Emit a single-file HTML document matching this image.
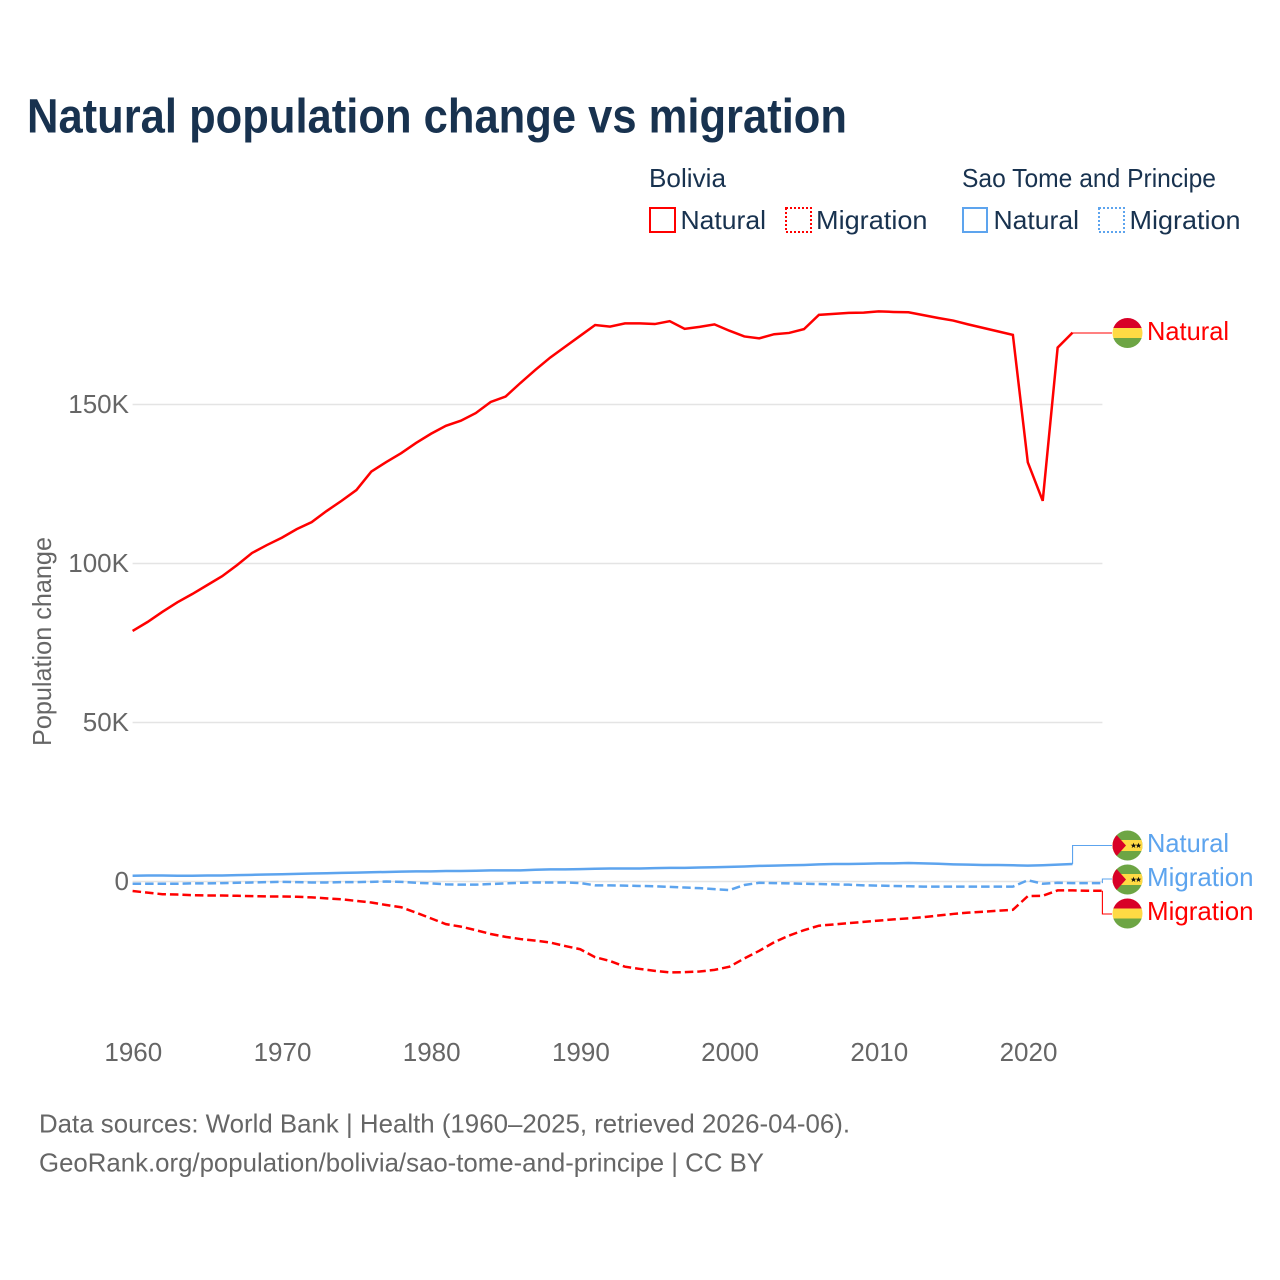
<!DOCTYPE html>
<html lang="en">
<head>
<meta charset="utf-8">
<title>Natural population change vs migration</title>
<style>
  html, body { margin: 0; padding: 0; background: #ffffff; }
  svg { display: block; font-family: "Liberation Sans", Arial, sans-serif; }
  .legend-text { font-size: 26px; fill: #18324f; }
  .tick { font-size: 26px; fill: #666666; }
  .source { font-size: 26px; fill: #666666; }
  .end-label { font-size: 26px; }
</style>
</head>
<body>
<svg id="chart" xmlns="http://www.w3.org/2000/svg" width="1280" height="1280" viewBox="0 0 1280 1280">
  <defs>
    <clipPath id="flag-clip"><circle cx="0" cy="0" r="15"></circle></clipPath>
    <g id="flag-bo">
      <g clip-path="url(#flag-clip)">
        <rect x="-15" y="-15" width="30" height="10" fill="#d80027"></rect>
        <rect x="-15" y="-5" width="30" height="10" fill="#ffda44"></rect>
        <rect x="-15" y="5" width="30" height="10" fill="#6da544"></rect>
      </g>
    </g>
    <g id="flag-st">
      <g clip-path="url(#flag-clip)">
        <rect x="-15" y="-15" width="30" height="30" fill="#6da544"></rect>
        <rect x="-15" y="-5.5" width="30" height="11" fill="#ffda44"></rect>
        <polygon points="-15,-15 -1.5,0 -15,15" fill="#d80027"></polygon>
        <polygon points="6,-2.8 6.8,-0.8 8.8,-0.8 7.2,0.5 7.8,2.5 6,1.3 4.2,2.5 4.8,0.5 3.2,-0.8 5.2,-0.8" fill="#111111"></polygon>
        <polygon points="11,-2.8 11.8,-0.8 13.8,-0.8 12.2,0.5 12.8,2.5 11,1.3 9.2,2.5 9.8,0.5 8.2,-0.8 10.2,-0.8" fill="#111111"></polygon>
      </g>
    </g>
  </defs>

  <text x="27" y="132.5" font-size="48" font-weight="700" fill="#18324f" textLength="820" lengthAdjust="spacingAndGlyphs">Natural population change vs migration</text>

  <g>
    <text class="legend-text" x="649" y="187" textLength="77" lengthAdjust="spacingAndGlyphs">Bolivia</text>
    <text class="legend-text" x="962" y="187" textLength="254" lengthAdjust="spacingAndGlyphs">Sao Tome and Principe</text>

    <g>
      <rect x="650" y="208" width="25" height="24" fill="none" stroke="#ff0000" stroke-width="2"></rect>
      <text class="legend-text" x="680.5" y="229" textLength="85.5" lengthAdjust="spacingAndGlyphs">Natural</text>
    </g>
    <g>
      <rect x="786" y="208" width="25" height="24" fill="none" stroke="#ff0000" stroke-width="2" stroke-dasharray="2 2"></rect>
      <text class="legend-text" x="816" y="229" textLength="111.5" lengthAdjust="spacingAndGlyphs">Migration</text>
    </g>
    <g>
      <rect x="963" y="208" width="24" height="24" fill="none" stroke="#5da4ee" stroke-width="2"></rect>
      <text class="legend-text" x="993.5" y="229" textLength="85.5" lengthAdjust="spacingAndGlyphs">Natural</text>
    </g>
    <g>
      <rect x="1099" y="208" width="25" height="24" fill="none" stroke="#5da4ee" stroke-width="2" stroke-dasharray="2 2"></rect>
      <text class="legend-text" x="1129.5" y="229" textLength="111" lengthAdjust="spacingAndGlyphs">Migration</text>
    </g>
  </g>

  <g id="grid"></g>
  <g id="y-ticks"></g>
  <g id="x-ticks"></g>

  <text class="tick" transform="translate(51,746) rotate(-90)" x="0" y="0" textLength="209" lengthAdjust="spacingAndGlyphs">Population change</text>

  <g id="series"></g>

  <g>
    <use href="#flag-bo" x="1127.5" y="333"></use>
    <text class="end-label" x="1147" y="340" fill="#ff0000" textLength="82" lengthAdjust="spacingAndGlyphs">Natural</text>
    <use href="#flag-st" x="1127.5" y="845.5"></use>
    <text class="end-label" x="1147" y="852" fill="#5da4ee" textLength="82" lengthAdjust="spacingAndGlyphs">Natural</text>
    <use href="#flag-st" x="1127.5" y="879.5"></use>
    <text class="end-label" x="1147" y="886" fill="#5da4ee" textLength="106.5" lengthAdjust="spacingAndGlyphs">Migration</text>
    <use href="#flag-bo" x="1127.5" y="913.5"></use>
    <text class="end-label" x="1147" y="920" fill="#ff0000" textLength="106.5" lengthAdjust="spacingAndGlyphs">Migration</text>
  </g>

  <text class="source" x="39" y="1132.5" textLength="811" lengthAdjust="spacingAndGlyphs">Data sources: World Bank | Health (1960–2025, retrieved 2026-04-06).</text>
  <text class="source" x="39" y="1171.5" textLength="725" lengthAdjust="spacingAndGlyphs">GeoRank.org/population/bolivia/sao-tome-and-principe | CC BY</text>
</svg>

<script>
var startYear = 1960;
var xTickYears = [1960, 1970, 1980, 1990, 2000, 2010, 2020];
var yTickValues = [0, 50, 100, 150];
var yTickLabels = ["0", "50K", "100K", "150K"];

// Values in thousands, one per year starting at 1960
var boliviaNatural = [78.8, 81.6, 84.8, 87.8, 90.4, 93.2, 96.0, 99.5, 103.3, 105.8,
  108.1, 110.8, 113.0, 116.5, 119.7, 123.1, 128.9, 131.9, 134.7, 137.9,
  140.8, 143.3, 144.9, 147.3, 150.8, 152.5, 156.8, 160.9, 164.8, 168.2,
  171.6, 175.0, 174.5, 175.5, 175.5, 175.3, 176.2, 173.8, 174.4, 175.2,
  173.2, 171.4, 170.8, 172.1, 172.5, 173.7, 178.2, 178.5, 178.8, 178.9,
  179.3, 179.1, 179.0, 178.1, 177.2, 176.4, 175.2, 174.1, 173.0, 171.9,
  131.8, 119.7, 167.9, 172.6];
var boliviaMigration = [-3.0, -3.5, -4.0, -4.1, -4.3, -4.4, -4.4, -4.5, -4.6, -4.7,
  -4.7, -4.8, -5.0, -5.3, -5.6, -6.1, -6.6, -7.4, -8.1, -9.8,
  -11.6, -13.4, -14.2, -15.3, -16.5, -17.4, -18.1, -18.6, -19.2, -20.3,
  -21.3, -23.8, -25.0, -26.8, -27.5, -28.1, -28.6, -28.5, -28.3, -27.8,
  -26.8, -24.2, -21.8, -19.1, -17.0, -15.3, -13.9, -13.5, -13.1, -12.7,
  -12.3, -11.9, -11.6, -11.2, -10.7, -10.2, -9.8, -9.5, -9.2, -8.9,
  -4.6, -4.5, -2.8, -2.8, -2.9, -2.9];
var saoTomeNatural = [1.8, 1.9, 1.9, 1.8, 1.8, 1.9, 1.9, 2.0, 2.1, 2.2,
  2.3, 2.4, 2.5, 2.6, 2.7, 2.8, 2.9, 3.0, 3.1, 3.2,
  3.2, 3.3, 3.3, 3.4, 3.5, 3.5, 3.5, 3.7, 3.8, 3.8,
  3.9, 4.0, 4.1, 4.1, 4.1, 4.2, 4.3, 4.3, 4.4, 4.5,
  4.6, 4.7, 4.9, 5.0, 5.1, 5.2, 5.4, 5.5, 5.5, 5.6,
  5.7, 5.7, 5.8, 5.7, 5.6, 5.4, 5.3, 5.2, 5.2, 5.1,
  5.0, 5.1, 5.3, 5.5];
var saoTomeMigration = [-0.7, -0.7, -0.7, -0.7, -0.6, -0.6, -0.5, -0.4, -0.3, -0.2,
  -0.1, -0.2, -0.3, -0.3, -0.2, -0.2, -0.1, 0.0, -0.1, -0.4,
  -0.6, -0.9, -1.0, -1.0, -0.8, -0.6, -0.4, -0.3, -0.3, -0.3,
  -0.5, -1.2, -1.2, -1.3, -1.4, -1.5, -1.7, -1.9, -2.1, -2.4,
  -2.7, -1.1, -0.4, -0.5, -0.6, -0.7, -0.8, -0.9, -1.0, -1.2,
  -1.3, -1.4, -1.5, -1.6, -1.6, -1.6, -1.6, -1.6, -1.6, -1.6,
  0.4, -0.7, -0.4, -0.5, -0.5, -0.5];

var svgNS = "http://www.w3.org/2000/svg";
var RED = "#ff0000";
var BLUE = "#5da4ee";

function xScale(year) { return 132.6 + (year - 1960) * 14.92; }
function yScale(v) { return 881.5 - v * 3.18; }
function svgEl(tag) { return document.createElementNS(svgNS, tag); }

var gridGroup = document.getElementById("grid");
var yGroup = document.getElementById("y-ticks");
var xGroup = document.getElementById("x-ticks");
var seriesGroup = document.getElementById("series");

yTickValues.forEach(function (v, i) {
  var line = svgEl("line");
  
  
  line.setAttribute("x1", xScale(1960));
  line.setAttribute("x2", xScale(2025));
  line.setAttribute("y1", yScale(v));
  line.setAttribute("y2", yScale(v));
  line.setAttribute("stroke", "#e4e4e4");
  line.setAttribute("stroke-width", "1.4");
  gridGroup.appendChild(line);

  var label = svgEl("text");
  
  
  label.setAttribute("class", "tick");
  label.setAttribute("x", "129");
  label.setAttribute("y", yScale(v) + 8.5);
  label.setAttribute("text-anchor", "end");
  label.textContent = yTickLabels[i];
  yGroup.appendChild(label);
});

xTickYears.forEach(function (year) {
  var label = svgEl("text");
  
  
  label.setAttribute("class", "tick");
  label.setAttribute("x", xScale(year) + 0.7);
  label.setAttribute("y", "1061");
  label.setAttribute("text-anchor", "middle");
  label.textContent = year;
  xGroup.appendChild(label);
});

function seriesPath(values) {
  return values.map(function (v, i) {
    return (i ? "L" : "M") + xScale(startYear + i).toFixed(2) + " " + yScale(v).toFixed(2);
  }).join(" ");
}

function lastPoint(values) {
  var i = values.length - 1;
  return { x: xScale(startYear + i), y: yScale(values[i]) };
}

function addLeader(values, labelY, color) {
  var p = lastPoint(values);
  var leader = svgEl("path");
  
  
  leader.setAttribute("d", "M" + p.x + " " + p.y + " V" + labelY + " H1112");
  leader.setAttribute("fill", "none");
  leader.setAttribute("stroke", color);
  leader.setAttribute("stroke-width", "1.1");
  seriesGroup.appendChild(leader);
}

addLeader(boliviaNatural, 333, RED);
addLeader(saoTomeNatural, 845.5, BLUE);
addLeader(saoTomeMigration, 879, BLUE);
addLeader(boliviaMigration, 914, RED);

var lineSaoNatural = svgEl("path");


lineSaoNatural.setAttribute("d", seriesPath(saoTomeNatural));
lineSaoNatural.setAttribute("fill", "none");
lineSaoNatural.setAttribute("stroke", BLUE);
lineSaoNatural.setAttribute("stroke-width", "2.5");
seriesGroup.appendChild(lineSaoNatural);

var lineSaoMigration = svgEl("path");


lineSaoMigration.setAttribute("d", seriesPath(saoTomeMigration));
lineSaoMigration.setAttribute("fill", "none");
lineSaoMigration.setAttribute("stroke", BLUE);
lineSaoMigration.setAttribute("stroke-width", "2.5");
lineSaoMigration.setAttribute("stroke-dasharray", "8.5 4");
seriesGroup.appendChild(lineSaoMigration);

var lineBoMigration = svgEl("path");


lineBoMigration.setAttribute("d", seriesPath(boliviaMigration));
lineBoMigration.setAttribute("fill", "none");
lineBoMigration.setAttribute("stroke", RED);
lineBoMigration.setAttribute("stroke-width", "2.5");
lineBoMigration.setAttribute("stroke-dasharray", "8.5 4");
seriesGroup.appendChild(lineBoMigration);

var lineBoNatural = svgEl("path");


lineBoNatural.setAttribute("d", seriesPath(boliviaNatural));
lineBoNatural.setAttribute("fill", "none");
lineBoNatural.setAttribute("stroke", RED);
lineBoNatural.setAttribute("stroke-width", "2.5");
seriesGroup.appendChild(lineBoNatural);
</script>
</body>
</html>
